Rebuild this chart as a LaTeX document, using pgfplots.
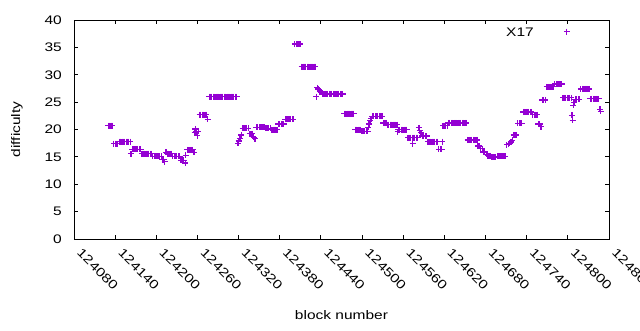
\documentclass[border=0pt]{standalone}
\usepackage{pgfplots}
\pgfplotsset{compat=1.18}
\usepackage{fontspec}
\setmainfont{Liberation Sans}
\definecolor{gpviolet}{HTML}{9400D3}
\newcommand{\sq}[1]{\scalebox{1}[0.8]{#1}}
\begin{document}
\begin{tikzpicture}
\path[use as bounding box] (-74pt,-91pt) rectangle (566pt,239pt);
\begin{axis}[
  at={(0pt,0pt)}, anchor=south west, scale only axis,
  width=535pt, height=219pt,
  xmin=124080, xmax=124860, ymin=0, ymax=40,
  xtick={124080,124140,124200,124260,124320,124380,124440,124500,124560,124620,124680,124740,124800,124860},
  ytick={0,5,10,15,20,25,30,35,40},
  tick align=inside, major tick length=4pt,
  axis line style={line width=0.9pt},
  every tick/.style={black, line width=0.9pt},
  /pgf/number format/assume math mode=true,
  /pgf/number format/fixed,
  /pgf/number format/precision=0,
  /pgf/number format/1000 sep={},
  scaled x ticks=false, scaled y ticks=false,
  xticklabel={\sq{\pgfmathprintnumber{\tick}}},
  yticklabel={\sq{\pgfmathprintnumber{\tick}}},
  ticklabel style={font=\fontsize{15.5}{17}\selectfont},
  xticklabel style={rotate=-45, anchor=north west, inner sep=0pt, yshift=0pt, xshift=12pt},
  yticklabel style={inner sep=0pt, xshift=-12pt},
  xlabel={\sq{block number}}, ylabel={\sq{difficulty}},
  label style={font=\fontsize{15.5}{17}\selectfont},
  xlabel style={at={(axis description cs:0.5,0)}, anchor=center, yshift=-76pt},
  ylabel style={at={(axis description cs:-0.1065,0.5)}, anchor=center},
  legend plot pos=right,
  legend style={draw=none, fill=none, at={(496pt,206.5pt)}, anchor=east, inner sep=0pt,
    font=\fontsize{15.5}{17}\selectfont,
    /tikz/every odd column/.append style={column sep=28pt}},
  legend image code/.code={\draw[#1] plot coordinates {(0pt,1pt)};},
]
\addplot[only marks, mark=+, mark size=3pt, color=gpviolet, mark options={line width=1.2pt}]
table[row sep=\\]{x y\\
124130 20.7\\ 124132 20.7\\ 124134 20.7\\ 124136 20.7\\
124138 17.4\\ 124140 17.4\\ 124142 17.4\\ 124144 17.4\\
124146 17.8\\ 124148 17.8\\ 124150 17.8\\ 124152 17.8\\ 124154 17.8\\ 124156 17.8\\ 124158 17.8\\ 124160 17.8\\ 124162 17.8\\
124163 15.6\\
124165 16.4\\ 124167 16.4\\ 124169 16.4\\ 124171 16.4\\ 124173 16.4\\ 124175 16.4\\ 124177 16.4\\
124179 15.6\\ 124181 15.6\\ 124183 15.6\\ 124185 15.6\\ 124187 15.6\\ 124189 15.6\\ 124191 15.6\\ 124193 15.6\\
124195 15.1\\ 124197 15.1\\ 124199 15.1\\ 124201 15.1\\ 124203 15.1\\ 124205 15.1\\ 124207 15.1\\
124209 14.5\\ 124211 14.5\\ 124212 14.1\\
124214 15.8\\ 124216 15.6\\ 124218 15.6\\ 124220 15.6\\ 124222 15.6\\
124224 15.1\\ 124226 15.1\\ 124228 15.1\\ 124230 15.1\\ 124232 15.1\\ 124234 15.1\\
124236 14.4\\ 124238 14.4\\ 124240 14.4\\ 124242 13.9\\
124243 15.3\\ 124245 16.3\\ 124247 16.3\\ 124249 16.3\\ 124251 16.3\\ 124253 16.3\\ 124255 15.8\\
124256 19.4\\ 124257 20.1\\ 124258 19.6\\ 124260 18.9\\ 124261 19.7\\
124263 22.7\\ 124265 22.7\\ 124267 22.7\\ 124269 22.7\\ 124271 22.7\\ 124273 22.7\\ 124275 21.9\\
124277 26.0\\ 124279 26.0\\ 124281 26.0\\ 124283 26.0\\ 124285 26.0\\ 124287 26.0\\ 124289 26.0\\ 124291 26.0\\ 124293 26.0\\ 124295 26.0\\ 124297 26.0\\
124299 26.0\\ 124301 26.0\\ 124303 26.0\\ 124305 26.0\\ 124307 26.0\\ 124309 26.0\\ 124311 26.0\\ 124313 26.0\\ 124315 26.0\\ 124317 26.0\\
124319 17.5\\ 124320 17.9\\ 124322 18.4\\ 124324 19.0\\
124326 20.2\\ 124328 20.2\\ 124330 20.2\\ 124332 20.2\\ 124334 20.2\\
124336 19.2\\ 124338 19.2\\ 124340 19.2\\ 124342 18.6\\ 124344 18.3\\
124346 20.4\\ 124348 20.4\\ 124350 20.4\\ 124352 20.4\\ 124354 20.4\\ 124356 20.4\\ 124358 20.4\\
124360 20.2\\ 124362 20.2\\ 124364 20.2\\ 124366 20.2\\
124368 20.0\\ 124370 20.0\\ 124372 20.0\\ 124374 20.0\\ 124376 20.0\\
124378 21.0\\ 124380 21.0\\ 124382 21.0\\ 124384 21.0\\ 124386 21.0\\
124388 21.9\\ 124390 21.9\\ 124392 21.9\\ 124394 21.9\\ 124396 21.9\\ 124398 21.9\\ 124400 21.9\\
124402 35.6\\ 124404 35.6\\ 124406 35.6\\ 124408 35.6\\ 124410 35.6\\
124412 31.5\\ 124414 31.5\\ 124416 31.5\\ 124418 31.5\\ 124420 31.5\\ 124422 31.5\\ 124424 31.5\\ 124426 31.5\\ 124428 31.5\\ 124430 31.5\\ 124432 31.5\\
124433 26.0\\
124435 27.6\\ 124436 27.4\\ 124437 27.3\\ 124438 27.1\\ 124439 27.0\\ 124440 26.8\\
124442 26.5\\ 124444 26.5\\ 124446 26.5\\ 124448 26.5\\ 124450 26.5\\ 124452 26.5\\ 124454 26.5\\ 124456 26.5\\
124458 26.5\\ 124460 26.5\\ 124462 26.5\\ 124464 26.5\\ 124466 26.5\\ 124468 26.5\\ 124470 26.5\\ 124472 26.5\\
124474 22.9\\ 124476 22.9\\ 124478 22.9\\ 124480 22.9\\ 124482 22.9\\ 124484 22.9\\ 124486 22.9\\ 124488 22.9\\
124490 20.0\\ 124492 20.0\\ 124494 20.0\\ 124496 20.0\\ 124498 20.0\\
124500 19.7\\ 124502 19.7\\ 124504 19.7\\ 124506 19.7\\ 124508 19.7\\
124509 20.4\\ 124510 21.0\\ 124512 21.6\\ 124513 22.0\\
124515 22.4\\ 124517 22.4\\ 124519 22.4\\ 124521 22.4\\ 124523 22.4\\ 124525 22.4\\ 124527 22.4\\ 124529 22.4\\
124531 21.2\\ 124533 21.2\\ 124535 21.2\\
124537 20.9\\ 124539 20.9\\ 124541 20.9\\ 124543 20.9\\ 124545 20.9\\ 124547 20.9\\ 124549 20.9\\ 124551 20.9\\
124552 19.6\\
124553 20.0\\ 124555 20.0\\ 124557 20.0\\ 124559 20.0\\ 124561 20.0\\ 124563 20.0\\ 124565 20.0\\
124567 18.5\\ 124569 18.5\\ 124571 18.5\\ 124573 18.5\\ 124575 18.5\\ 124577 18.5\\ 124579 18.5\\ 124581 18.5\\
124574 17.4\\
124583 20.3\\ 124584 19.8\\ 124586 19.4\\
124588 18.8\\ 124590 18.8\\ 124592 18.8\\ 124594 18.8\\
124596 17.8\\ 124598 17.8\\ 124600 17.8\\ 124602 17.8\\ 124604 17.8\\ 124606 17.8\\ 124608 17.8\\ 124610 17.8\\
124612 16.4\\ 124614 16.4\\ 124616 16.4\\
124617 17.8\\
124618 20.7\\ 124620 20.7\\ 124622 20.7\\ 124624 20.7\\
124626 21.2\\ 124628 21.2\\ 124630 21.2\\ 124632 21.2\\ 124634 21.2\\ 124636 21.2\\ 124638 21.2\\
124640 21.2\\ 124642 21.2\\ 124644 21.2\\ 124646 21.2\\ 124648 21.2\\ 124650 21.2\\ 124652 21.2\\
124654 18.1\\ 124656 18.1\\ 124658 18.1\\ 124660 18.1\\ 124662 18.1\\ 124664 18.1\\ 124666 18.1\\ 124668 18.1\\
124669 17.0\\ 124671 17.0\\ 124673 16.5\\ 124675 16.5\\ 124677 15.9\\ 124679 15.9\\ 124681 15.5\\
124683 15.2\\ 124685 15.2\\ 124687 15.2\\ 124689 15.0\\ 124691 14.9\\ 124693 14.9\\ 124695 15.0\\
124697 15.1\\ 124699 15.1\\ 124701 15.1\\ 124703 15.1\\ 124705 15.1\\ 124707 15.1\\ 124709 15.1\\
124711 17.2\\ 124713 17.3\\ 124715 17.5\\ 124717 17.7\\ 124719 18.0\\
124721 19.0\\ 124723 19.0\\ 124725 19.0\\
124727 21.1\\ 124729 21.1\\ 124731 21.1\\ 124733 21.1\\
124735 23.2\\ 124737 23.2\\ 124739 23.2\\ 124741 23.2\\ 124743 23.2\\ 124745 23.2\\ 124747 23.2\\
124749 22.7\\ 124751 22.7\\ 124753 22.7\\ 124755 22.7\\
124757 21.0\\ 124759 21.0\\ 124761 20.5\\
124763 25.4\\ 124765 25.4\\ 124767 25.4\\
124769 27.8\\ 124771 27.8\\ 124773 27.8\\ 124775 27.8\\ 124777 27.8\\ 124779 27.8\\
124781 28.3\\ 124783 28.3\\ 124785 28.3\\ 124787 28.3\\ 124789 28.3\\ 124791 28.3\\
124793 25.8\\ 124795 25.8\\ 124797 25.8\\ 124799 25.8\\ 124801 25.8\\ 124803 25.8\\ 124805 25.8\\
124806 22.6\\ 124807 21.7\\ 124808 24.4\\ 124809 25.0\\
124811 25.5\\ 124813 25.5\\ 124815 25.5\\ 124817 25.5\\
124819 27.4\\ 124821 27.4\\ 124823 27.4\\ 124825 27.4\\ 124827 27.4\\ 124829 27.4\\ 124831 27.4\\
124833 25.6\\ 124835 25.6\\ 124837 25.6\\ 124839 25.6\\ 124841 25.6\\ 124843 25.6\\ 124845 25.6\\
124847 23.7\\ 124848 23.3\\
};
\addlegendentry{\sq{X17}}
\end{axis}
\end{tikzpicture}
\end{document}
